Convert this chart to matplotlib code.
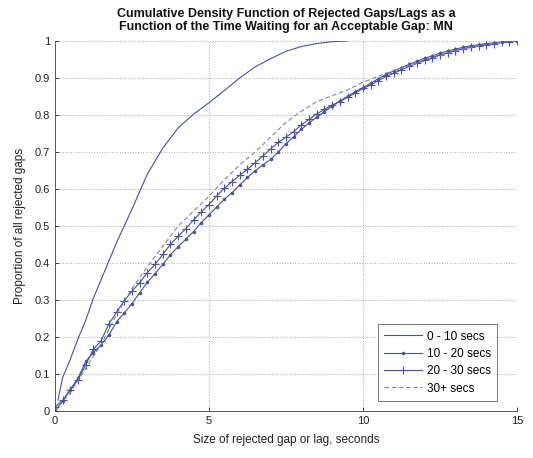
import matplotlib
matplotlib.use('Agg')
import matplotlib.pyplot as plt
import numpy as np

plt.rcParams['font.family'] = ['Liberation Sans', 'DejaVu Sans']

# x positions of the binned CDF points (every quarter second)
x_bins = np.arange(0, 15.01, 0.25)

# 0 - 10 secs (plain line)
x_0_10 = [0.1, 0.25, 0.5, 0.75, 1.0, 1.25, 1.5, 1.75, 2.0, 2.25, 2.5, 3.0, 3.5,
          4.0, 4.5, 5.0, 5.5, 6.0, 6.5, 7.0, 7.5, 8.0, 8.5, 9.0, 9.5]
y_0_10 = [0.03, 0.09, 0.14, 0.195, 0.245, 0.305, 0.355, 0.405, 0.455, 0.50,
          0.545, 0.64, 0.71, 0.765, 0.802, 0.833, 0.866, 0.90, 0.93, 0.952,
          0.972, 0.985, 0.993, 0.998, 1.0]

# 10 - 20 secs (dot markers)
y_10_20 = [0.0, 0.027, 0.058, 0.089, 0.134, 0.158, 0.179, 0.205, 0.241, 0.265,
           0.29, 0.319, 0.348, 0.371, 0.396, 0.422, 0.444, 0.464, 0.485, 0.509,
           0.53, 0.551, 0.572, 0.59, 0.611, 0.631, 0.649, 0.665, 0.68, 0.70,
           0.722, 0.741, 0.761, 0.779, 0.794, 0.809, 0.824, 0.838, 0.85, 0.863,
           0.874, 0.886, 0.898, 0.91, 0.919, 0.928, 0.937, 0.945, 0.953, 0.96,
           0.967, 0.973, 0.978, 0.983, 0.987, 0.99, 0.993, 0.995, 0.997, 0.999,
           1.0]

# 20 - 30 secs (plus markers)
y_20_30 = [0.01, 0.029, 0.056, 0.085, 0.125, 0.167, 0.19, 0.235, 0.267, 0.298,
           0.323, 0.347, 0.374, 0.396, 0.423, 0.45, 0.472, 0.493, 0.516, 0.538,
           0.558, 0.581, 0.602, 0.62, 0.637, 0.653, 0.671, 0.689, 0.708, 0.726,
           0.74, 0.755, 0.773, 0.788, 0.803, 0.815, 0.827, 0.836, 0.848, 0.859,
           0.872, 0.881, 0.893, 0.904, 0.913, 0.922, 0.931, 0.94, 0.948, 0.955,
           0.962, 0.968, 0.974, 0.979, 0.983, 0.987, 0.99, 0.993, 0.996, 0.998,
           1.0]

# 30+ secs (dashed line)
x_30p = [0.0, 0.5, 1.0, 1.5, 2.0, 2.5, 3.0, 3.5, 4.0, 4.5, 5.0, 5.5, 6.0, 6.5,
         7.0, 7.5, 8.0, 8.5, 9.0, 9.5, 10.0, 10.5, 11.0, 11.5, 12.0, 12.5,
         13.0, 13.5, 14.0, 14.5, 15.0]
y_30p = [0.0, 0.05, 0.115, 0.18, 0.26, 0.33, 0.39, 0.445, 0.50, 0.54, 0.58,
         0.625, 0.665, 0.70, 0.74, 0.78, 0.81, 0.836, 0.852, 0.868, 0.888,
         0.905, 0.92, 0.933, 0.946, 0.96, 0.972, 0.982, 0.99, 0.996, 1.0]

labels = ['0 - 10 secs', '10 - 20 secs', '20 - 30 secs', '30+ secs']
line_color = '#4a4fa8'

fig = plt.figure(figsize=(5.33, 4.58), dpi=100)
ax = fig.add_axes([0.103, 0.1026, 0.867, 0.808])

ax.plot(x_0_10, y_0_10, '-', color=line_color, lw=0.8, label=labels[0])
ax.plot(x_bins, y_10_20, '-', color=line_color, lw=0.8, marker='.',
        markersize=3, label=labels[1])
ax.plot(x_bins, y_20_30, '-', color=line_color, lw=0.8, marker='+',
        markersize=6, markeredgewidth=0.8, label=labels[2])
ax.plot(x_30p, y_30p, '--', color='#7a7fc0', lw=0.8, dashes=(4, 2.5),
        label=labels[3])

ax.set_xlim(0, 15)
ax.set_ylim(0, 1)
ax.set_xticks([0, 5, 10, 15])
ax.set_yticks(np.arange(0, 1.01, 0.1))
ax.set_yticklabels(['0', '0.1', '0.2', '0.3', '0.4', '0.5', '0.6', '0.7',
                    '0.8', '0.9', '1'])
ax.tick_params(direction='in', length=3, width=0.6, labelsize=8,
               colors='#222222')
ax.grid(True, linestyle=':', color='#aaaaaa', linewidth=0.7)
ax.spines['top'].set_visible(False)
ax.spines['right'].set_visible(False)
for s in ['left', 'bottom']:
    ax.spines[s].set_linewidth(0.6)
    ax.spines[s].set_color('#444444')

ax.set_xlabel('Size of rejected gap or lag, seconds', fontsize=8.5,
              color='#222222', labelpad=6)
ax.set_ylabel('Proportion of all rejected gaps', fontsize=8.5,
              color='#222222', labelpad=6)
ax.set_title('Cumulative Density Function of Rejected Gaps/Lags as a\n'
             'Function of the Time Waiting for an Acceptable Gap: MN',
             fontsize=9, fontweight='bold', color='#111111', pad=8,
             linespacing=1.1)

leg = ax.legend(loc='lower right', bbox_to_anchor=(0.957, 0.027),
                borderaxespad=0, fontsize=8.5, frameon=True, fancybox=False,
                handlelength=3.2, borderpad=0.55, labelspacing=0.45,
                handletextpad=0.4)
leg.get_frame().set_edgecolor('#555555')
leg.get_frame().set_linewidth(0.7)

fig.savefig('out.png', dpi=100)
